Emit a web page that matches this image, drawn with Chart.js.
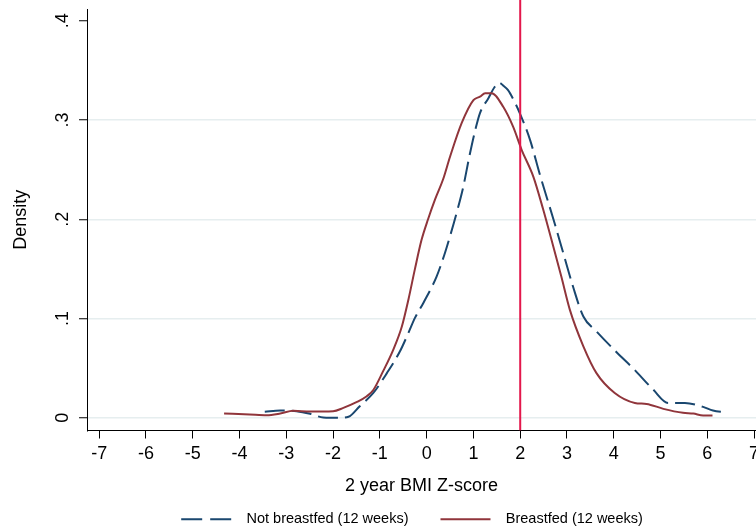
<!DOCTYPE html>
<html><head><meta charset="utf-8">
<script src="https://cdn.jsdelivr.net/npm/chart.js@4/dist/chart.umd.min.js"></script>
<style>html,body{margin:0;padding:0;background:#fff;overflow:hidden}canvas{display:block}</style>
</head><body>
<canvas id="c" width="756" height="527"></canvas>
<script>
const seriesLabels = ['Not breastfed (12 weeks)', 'Breastfed (12 weeks)'];

const notBfX = [-3.46, -3.13, -2.78, -2.49, -2.21, -1.85, -1.67, -1.43, -1.14, -0.85, -0.57, -0.39, -0.25, -0.07, 0.21, 0.37, 0.5, 0.65, 0.78, 0.92, 1.05, 1.14, 1.32, 1.45, 1.55, 1.64, 1.74, 1.85, 1.99, 2.21, 2.42, 2.71, 2.92, 3.13, 3.35, 3.63, 4.06, 4.41, 4.84, 5.16, 5.52, 5.91, 6.12, 6.37];
const notBfY = [0.006, 0.0073, 0.0066, 0.004, 0.0003, 0.0, 0.001, 0.0117, 0.025, 0.045, 0.067, 0.0855, 0.1006, 0.1157, 0.142, 0.163, 0.183, 0.208, 0.232, 0.265, 0.292, 0.307, 0.322, 0.333, 0.3376, 0.3345, 0.330, 0.321, 0.307, 0.280, 0.245, 0.200, 0.166, 0.132, 0.102, 0.087, 0.066, 0.050, 0.0285, 0.015, 0.015, 0.011, 0.0073, 0.0056];

const bfX = [-4.33, -3.78, -3.42, -3.13, -2.85, -2.49, -2.0, -1.78, -1.5, -1.28, -1.14, -0.93, -0.71, -0.53, -0.39, -0.25, -0.11, 0.03, 0.18, 0.35, 0.5, 0.75, 1.0, 1.14, 1.25, 1.39, 1.64, 1.85, 2.03, 2.28, 2.49, 2.71, 2.88, 3.06, 3.35, 3.63, 4.02, 4.45, 4.7, 5.06, 5.48, 5.7, 5.91, 6.11];
const bfY = [0.0043, 0.0033, 0.0026, 0.0043, 0.0070, 0.0063, 0.0066, 0.0100, 0.0157, 0.0217, 0.0280, 0.0470, 0.0690, 0.0920, 0.1190, 0.1500, 0.1790, 0.2000, 0.2200, 0.2400, 0.2630, 0.2970, 0.3200, 0.3235, 0.3270, 0.3270, 0.3130, 0.2930, 0.2700, 0.2430, 0.2100, 0.1720, 0.1420, 0.1090, 0.0720, 0.0450, 0.0250, 0.0150, 0.0140, 0.0090, 0.0050, 0.0043, 0.0023, 0.0023];

const xTicks = [-7, -6, -5, -4, -3, -2, -1, 0, 1, 2, 3, 4, 5, 6, 7];
const xTickLabels = ['-7', '-6', '-5', '-4', '-3', '-2', '-1', '0', '1', '2', '3', '4', '5', '6', '7'];
const yTicks = [0, 0.1, 0.2, 0.3, 0.4];
const yTickLabels = ['0', '.1', '.2', '.3', '.4'];
const refLineX = 2;
const axisTitleX = '2 year BMI Z-score';
const axisTitleY = 'Density';

const FONT = '"Liberation Sans", Arial, Helvetica, sans-serif';
const X_MIN = -7.26, X_MAX = 7.04, Y_MIN = -0.0128, Y_MAX = 0.4118, Y_LINE_TOP = 0.4215;
const toPts = (xs, ys) => xs.map((x, i) => ({x: x, y: ys[i]}));

const legendShift = {
  id: 'legendShift',
  afterLayout(chart) {
    const lg = chart.legend;
    if (!lg) return;
    const h = lg.height;
    lg.left = 34; lg.right = 790; lg.width = 756;
    lg.top = 480; lg.bottom = 480 + h;
  }
};

new Chart(document.getElementById('c'), {
  type: 'line',
  data: {
    datasets: [
      { label: seriesLabels[0], data: toPts(notBfX, notBfY), borderColor: '#1a476f', borderWidth: 2,
        borderDash: [20, 7], pointRadius: 0, cubicInterpolationMode: 'monotone', fill: false, order: 2 },
      { label: seriesLabels[1], data: toPts(bfX, bfY), borderColor: '#90353b', borderWidth: 2,
        pointRadius: 0, cubicInterpolationMode: 'monotone', fill: false, order: 1 },
      { label: 'xline', data: [{x: refLineX, y: Y_MIN}, {x: refLineX, y: Y_LINE_TOP}], borderColor: '#e3174b',
        borderWidth: 2, pointRadius: 0, fill: false, order: 0, clip: {left: 0, right: 0, top: 12, bottom: 0} }
    ]
  },
  options: {
    responsive: false,
    animation: false,
    devicePixelRatio: 1,
    layout: { padding: { top: 9, left: 0, right: 0, bottom: 0 } },
    plugins: {
      tooltip: { enabled: false },
      legend: {
        display: true, position: 'bottom', align: 'center',
        labels: {
          usePointStyle: true, pointStyle: 'line', pointStyleWidth: 50, padding: 32,
          color: '#000', font: { family: FONT, size: 14.5 },
          generateLabels: (chart) => chart.data.datasets.slice(0, 2).map((ds, i) => ({
            text: '  ' + ds.label, fillStyle: ds.borderColor, strokeStyle: ds.borderColor,
            lineWidth: 2, lineDash: i === 0 ? [21, 8] : [], lineCap: 'butt',
            pointStyle: 'line', hidden: false, datasetIndex: i, fontColor: '#000'
          }))
        }
      }
    },
    scales: {
      x: {
        type: 'linear', min: X_MIN, max: X_MAX,
        afterBuildTicks: (s) => { s.ticks = xTicks.map(v => ({value: v})); },
        afterFit: (s) => { s.height = 40; s.paddingLeft = 0; s.paddingRight = 0; },
        ticks: { autoSkip: false, maxRotation: 0, minRotation: 0, padding: 5, color: '#000',
                 font: { family: FONT, size: 18 }, callback: (v, i) => xTickLabels[i] },
        grid: { drawOnChartArea: false, drawTicks: true, tickLength: 8, tickColor: '#000', tickWidth: 1 },
        border: { display: true, color: '#000', width: 1 },
        title: { display: true, text: axisTitleX, color: '#000', font: { family: FONT, size: 18 },
                 padding: { top: 0, bottom: -26 } }
      },
      y: {
        type: 'linear', min: Y_MIN, max: Y_MAX,
        afterBuildTicks: (s) => { s.ticks = yTicks.map(v => ({value: v})); },
        afterFit: (s) => { s.width = 87; s.paddingTop = 0; s.paddingBottom = 0; },
        ticks: { minRotation: 90, maxRotation: 90, crossAlign: 'center', padding: 8, color: '#000',
                 font: { family: FONT, size: 18 }, callback: (v, i) => yTickLabels[i] },
        grid: { color: (ctx) => (ctx.tick && ctx.tick.value >= 0.4) ? 'rgba(0,0,0,0)' : '#e6eeef',
                lineWidth: 1.5, drawTicks: true, tickLength: 8, tickColor: '#000', tickWidth: 1 },
        border: { display: true, color: '#000', width: 1 },
        title: { display: true, text: axisTitleY, color: '#000', font: { family: FONT, size: 18 },
                 padding: { top: 10, bottom: 0 } }
      }
    }
  },
  plugins: [legendShift]
});
</script>
</body></html>
